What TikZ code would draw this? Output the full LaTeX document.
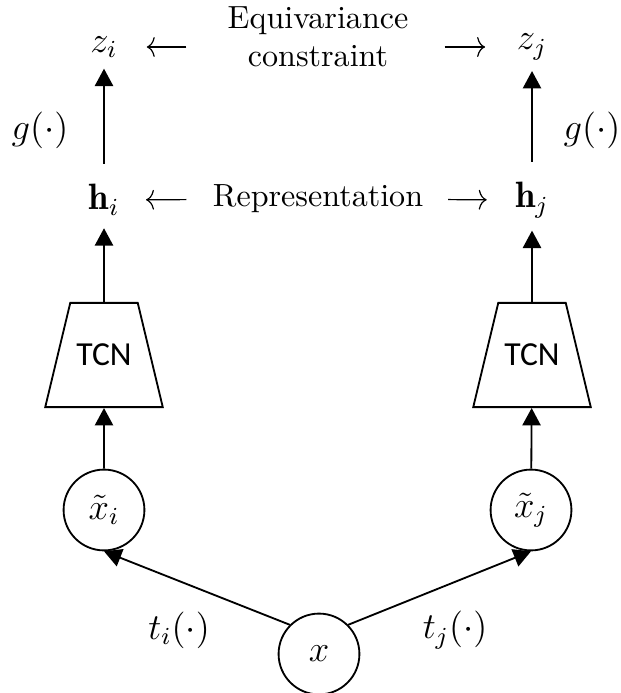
\documentclass[tikz,border=0pt]{standalone}
\usepackage{amsmath}
\usepackage{amssymb}
\usepackage{bm}
\usepackage{fontspec}
\usepackage{tikz}
\usetikzlibrary{shapes.geometric, arrows.meta, positioning, calc}
\newfontfamily\tcnfont{Carlito}
\tikzset{
	encoder/.style  ={trapezium, trapezium left angle=76.5, trapezium right angle=76.5, inner xsep=0.07cm, inner ysep=0.473cm, draw=black, semithick, font=\tcnfont\fontsize{11}{13}\selectfont},
	sample/.style   ={circle, draw=black, semithick, minimum size=0.93cm, inner sep=0pt, font=\large},
	mlabel/.style   ={inner sep=0pt, font=\large},
	tlabel/.style   ={inner sep=0pt, align=center, font=\fontsize{10.5}{12.5}\selectfont},
	flowarrow/.style={-{Triangle[length=0.2cm, width=0.21cm]}, semithick},
	sig/.style      ={-{To[length=2.6pt, width=6.5pt]}, thin},
}
\begin{document}
\begin{tikzpicture}[x=0.0115cm, y=-0.0115cm]
			\useasboundingbox (0,0) rectangle (620,693);
			% two branches
			\node[mlabel] (zi) at (104,47) {$z_i$};
			\node[mlabel] (zj) at (532,47) {$z_j$};
			\node[tlabel] (eq) at (318,37) {Equivariance\\constraint};
			\node[mlabel] (hi) at (104,200) {$\mathbf{h}_i$};
			\node[mlabel] (hj) at (532,200) {$\mathbf{h}_j$};
			\node[tlabel] (rep) at (318,199) {Representation};
			\node[encoder] (enci) at (104,355) {TCN};
			\node[encoder] (encj) at (532,355) {TCN};
			\node[sample] (xi) at (104,510) {$\tilde{x}_i$};
			\node[sample] (xj) at (531,510) {$\tilde{x}_j$};
			\node[sample] (x) at (319,654) {$x$};
			% labels
			\node[mlabel] (gi) at (40,130) {$g(\cdot)$};
			\node[mlabel] (gj) at (592,130) {$g(\cdot)$};
			\node[mlabel] (ti) at (179,630) {$t_i(\cdot)$};
			\node[mlabel] (tj) at (455,630) {$t_j(\cdot)$};
			% arrows
			\draw[flowarrow] (x.135) -- (xi.south);
			\draw[flowarrow] (x.45) -- (xj.south);
			\draw[flowarrow] (xi) -- (enci);
			\draw[flowarrow] (xj) -- (encj);
			\draw[flowarrow, shorten >=0.14cm] (enci) -- (hi);
			\draw[flowarrow, shorten >=0.14cm] (encj) -- (hj);
			\draw[flowarrow, shorten <=0.23cm, shorten >=0.12cm] (hi) -- (zi);
			\draw[flowarrow, shorten <=0.23cm, shorten >=0.12cm] (hj) -- (zj);
			\draw[sig, shorten <=0.47cm, shorten >=0.33cm] (zi.east -| eq.west) -- (zi.east);
			\draw[sig, shorten <=0.41cm, shorten >=0.36cm] (zj.west -| eq.east) -- (zj.west);
			\draw[sig, shorten <=0.3cm, shorten >=0.3cm] (rep) -- (hi);
			\draw[sig, shorten <=0.28cm, shorten >=0.32cm] (rep) -- (hj);
		\end{tikzpicture}
\end{document}
